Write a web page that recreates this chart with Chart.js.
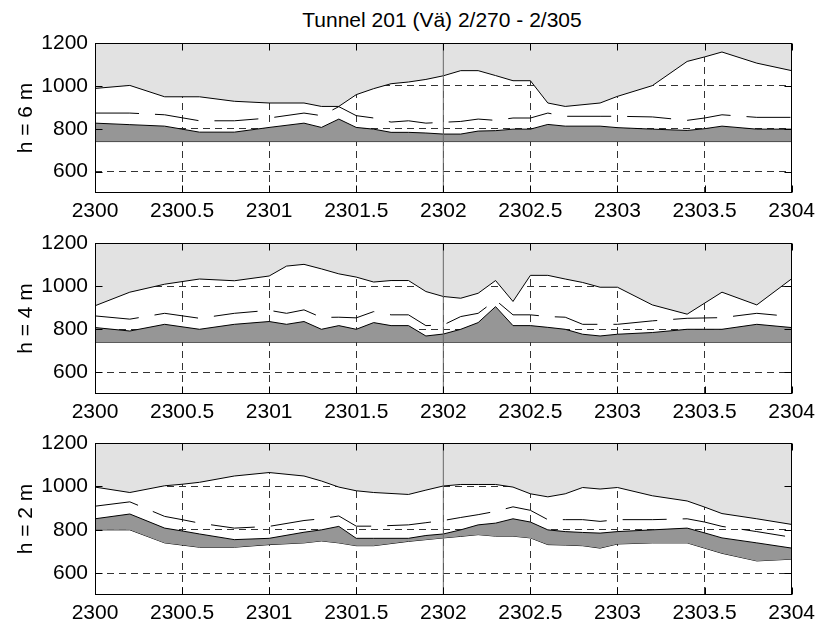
<!DOCTYPE html>
<html>
<head>
<meta charset="utf-8">
<script src="https://cdn.jsdelivr.net/npm/chart.js@4/dist/chart.umd.min.js"></script>
<style>
  body { margin: 0; background: #fff; }
  #wrap { position: relative; width: 821px; height: 626px; overflow: hidden; }
  .panel { position: absolute; left: 0; }
  #title { position: absolute; left: 92px; width: 700px; top: 9px; text-align: center;
           font: 21px/21px "Liberation Sans", Arial, sans-serif; color: #000; white-space: nowrap; }
</style>
</head>
<body>
<div id="wrap">
  <div id="title">Tunnel 201 (Vä) 2/270 - 2/305</div>
  <canvas id="p6" class="panel" width="821" height="226" style="top:0px"></canvas>
  <canvas id="p4" class="panel" width="821" height="226" style="top:200px"></canvas>
  <canvas id="p2" class="panel" width="821" height="226" style="top:400px"></canvas>
</div>
<script>
// tick labels
const xTicks = [2300, 2300.5, 2301, 2301.5, 2302, 2302.5, 2303, 2303.5, 2304];
const yTicks = [600, 800, 1000, 1200];
const yMin = 500, yMax = 1200;
const markerKm = 2302;      // solid vertical reference line
const floorLevel = 740;     // bottom of dark band, h = 6 m and h = 4 m

// h = 6 m
const x6 = [2300, 2300.2, 2300.4, 2300.6, 2300.8, 2301, 2301.2, 2301.3, 2301.4, 2301.5, 2301.6, 2301.7, 2301.8, 2301.9, 2302,
            2302.1, 2302.2, 2302.3, 2302.4, 2302.5, 2302.6, 2302.7, 2302.9, 2303, 2303.2, 2303.4, 2303.5, 2303.6, 2303.8, 2304];
const upper6  = [988, 1002, 949, 949, 928, 920, 920, 904, 904, 959, 987, 1010, 1018, 1030, 1047,
                 1071, 1071, 1048, 1024, 1024, 920, 904, 920, 951, 1001, 1114, 1135, 1158, 1106, 1071];
const dashed6 = [873, 873, 865, 837, 837, 850, 873, 861, 903, 861, 850, 831, 837, 826, 830,
                 834, 845, 839, 850, 850, 873, 858, 858, 858, 855, 839, 850, 865, 853, 853];
const lower6  = [826, 819, 812, 784, 784, 806, 826, 806, 845, 806, 798, 783, 783, 780, 775,
                 775, 789, 791, 798, 798, 820, 812, 812, 805, 798, 792, 800, 812, 798, 798];

// h = 4 m
const x4 = [2300, 2300.2, 2300.4, 2300.6, 2300.8, 2301, 2301.1, 2301.2, 2301.3, 2301.4, 2301.5, 2301.6, 2301.7, 2301.8, 2301.9, 2302,
            2302.1, 2302.2, 2302.3, 2302.4, 2302.5, 2302.6, 2302.7, 2302.8, 2302.9, 2303, 2303.2, 2303.4, 2303.6, 2303.8, 2304];
const upper4  = [909, 972, 1009, 1033, 1025, 1047, 1093, 1101, 1080, 1057, 1042, 1019, 1026, 1026, 975, 952,
                 944, 967, 1026, 929, 1050, 1050, 1033, 1017, 995, 995, 913, 870, 972, 913, 1034];
const dashed4 = [862, 847, 874, 851, 874, 888, 874, 890, 855, 856, 853, 882, 867, 867, 817, 820,
                 859, 874, 935, 867, 867, 859, 856, 823, 823, 823, 839, 851, 854, 874, 859];
const lower4  = [808, 792, 823, 800, 823, 836, 823, 836, 800, 817, 800, 831, 817, 817, 769, 778,
                 800, 831, 905, 817, 817, 809, 800, 777, 769, 777, 785, 800, 800, 823, 808];

// h = 2 m
const x2 = [2300, 2300.2, 2300.4, 2300.5, 2300.6, 2300.8, 2301, 2301.2, 2301.3, 2301.4, 2301.5, 2301.6, 2301.8, 2301.9, 2302,
            2302.1, 2302.2, 2302.3, 2302.4, 2302.5, 2302.6, 2302.7, 2302.8, 2302.9, 2303, 2303.2, 2303.4, 2303.5, 2303.6, 2303.8, 2304];
const upper2   = [997, 972, 1003, 1010, 1019, 1048, 1064, 1048, 1025, 997, 980, 972, 963, 983, 1002,
                  1009, 1009, 1009, 997, 966, 952, 966, 995, 988, 995, 957, 933, 905, 875, 851, 825];
const dashed2  = [909, 929, 862, 847, 831, 808, 816, 843, 851, 864, 817, 817, 823, 833, 843,
                  857, 870, 885, 906, 890, 847, 847, 847, 839, 847, 847, 851, 836, 816, 792, 766];
const lower2   = [851, 873, 808, 795, 781, 755, 761, 789, 800, 816, 761, 761, 761, 774, 781,
                  800, 823, 831, 851, 836, 800, 792, 788, 785, 792, 800, 808, 786, 763, 740, 716];
const bottom2  = [800, 800, 740, 730, 720, 720, 732, 740, 749, 740, 727, 727, 747, 755, 763,
                  770, 778, 771, 771, 763, 732, 730, 727, 716, 735, 740, 740, 716, 692, 657, 665];

const FONT = { family: '"Liberation Sans", Arial, Helvetica, sans-serif', size: 21 };
const LIGHT = 'rgb(226,226,226)';
const DARK = 'rgb(150,150,150)';

const pts = (xs, ys) => xs.map((x, i) => ({ x: x, y: ys[i] }));

// matlab style box with inward tick marks
const frame = {
  id: 'frame',
  afterDraw(chart) {
    const { ctx, chartArea: a, scales } = chart;
    const L = Math.round(a.left) + 0.5, R = Math.round(a.right) - 0.5;
    const T = Math.round(a.top) + 0.5, B = Math.round(a.bottom) - 0.5;
    const len = 7;
    ctx.save();
    ctx.strokeStyle = '#000';
    ctx.lineWidth = 1;
    ctx.beginPath();
    xTicks.forEach(v => {
      const px = Math.round(scales.x.getPixelForValue(v)) + 0.5;
      ctx.moveTo(px, B); ctx.lineTo(px, B - len);
      ctx.moveTo(px, T); ctx.lineTo(px, T + len);
    });
    yTicks.forEach(v => {
      const py = Math.round(scales.y.getPixelForValue(v)) + 0.5;
      ctx.moveTo(L, py); ctx.lineTo(L + len, py);
      ctx.moveTo(R, py); ctx.lineTo(R - len, py);
    });
    ctx.stroke();
    ctx.strokeRect(L, T, R - L, B - T);
    ctx.restore();
  }
};

function makePanel(id, label, plotHeight, xs, upper, dashed, lower, bottom) {
  const base = bottom ? pts(xs, bottom) : [{ x: xTicks[0], y: floorLevel }, { x: xTicks[xTicks.length - 1], y: floorLevel }];
  const datasets = [
    { data: base, borderColor: '#000', borderWidth: 1, fill: false, order: 4 },
    { data: pts(xs, lower), borderColor: '#000', borderWidth: 1, backgroundColor: DARK, fill: '-1', order: 3 },
    { data: pts(xs, upper), borderColor: '#000', borderWidth: 1, backgroundColor: LIGHT, fill: 'end', order: 2 },
    { data: pts(xs, dashed), borderColor: '#000', borderWidth: 1, borderDash: [44, 16], fill: false, order: 1 },
    { data: [{ x: markerKm, y: yMin }, { x: markerKm, y: yMax }], borderColor: '#666', borderWidth: 1, fill: false, order: 0 }
  ];
  return new Chart(document.getElementById(id), {
    type: 'line',
    data: { datasets: datasets },
    plugins: [frame],
    options: {
      responsive: false,
      animation: false,
      layout: { padding: { top: 43, right: 26, left: 0, bottom: 0 } },
      elements: { point: { radius: 0 }, line: { tension: 0 } },
      plugins: { legend: { display: false }, tooltip: { enabled: false }, title: { display: false } },
      scales: {
        x: {
          type: 'linear', min: xTicks[0], max: xTicks[xTicks.length - 1],
          afterBuildTicks: s => { s.ticks = xTicks.map(v => ({ value: v })); },
          afterFit: s => { s.height = 183 - plotHeight; },
          ticks: { font: FONT, color: '#000', padding: 6, maxRotation: 0, autoSkip: false, callback: v => String(v) },
          grid: { color: '#333', lineWidth: 1, drawTicks: false },
          border: { display: false, dash: [7, 5] }
        },
        y: {
          min: yMin, max: yMax,
          afterBuildTicks: s => { s.ticks = yTicks.map(v => ({ value: v })); },
          afterFit: s => { s.width = 95; },
          ticks: { font: FONT, color: '#000', padding: 7, callback: v => String(v) },
          grid: { color: '#333', lineWidth: 1, drawTicks: false },
          border: { display: false, dash: [7, 5] },
          title: { display: true, text: label, font: FONT, color: '#000', padding: { top: 14, bottom: 0 } }
        }
      }
    }
  });
}

makePanel('p6', 'h = 6 m', 150, x6, upper6, dashed6, lower6, null);
makePanel('p4', 'h = 4 m', 151, x4, upper4, dashed4, lower4, null);
makePanel('p2', 'h = 2 m', 152, x2, upper2, dashed2, lower2, bottom2);
</script>
</body>
</html>
